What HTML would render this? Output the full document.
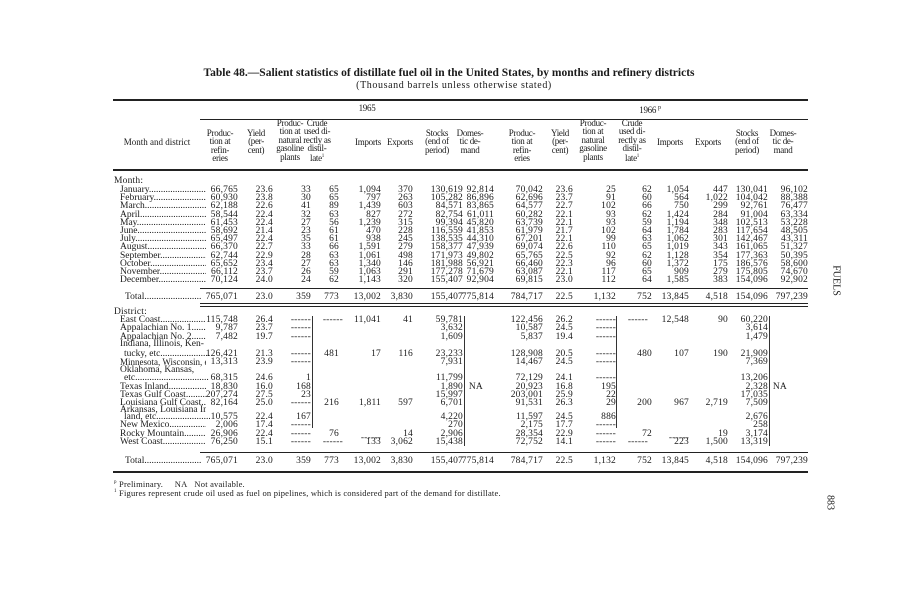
<!DOCTYPE html>
<html><head><meta charset="utf-8"><style>
body{margin:0;background:#fff}
#p{position:relative;width:903px;height:600px;overflow:hidden;background:#fff;font-family:"Liberation Serif",serif;color:#1a1a1a}
.r{position:absolute;left:0;width:903px;height:10px;font-size:9.5px;line-height:10px;letter-spacing:.2px}
.r b{position:absolute;font-weight:normal;white-space:nowrap}
.l{position:absolute;left:116px;width:86px;overflow:hidden;white-space:nowrap;letter-spacing:0}
.c1{right:665px}.c2{right:630px}.c3{right:592px}.c4{right:564px}.c5{right:522px}.c6{right:490px}.c7{right:440px}.c8{right:409px}
.c9{right:360px}.c10{right:330px}.c11{right:287px}.c12{right:251px}.c13{right:214px}.c14{right:175px}.c15{right:135px}.c16{right:95px}
.h{position:absolute;font-size:9px;line-height:8.4px;text-align:center;transform:translateX(-50%);white-space:nowrap;letter-spacing:-.3px}
.hr{position:absolute;height:1px;background:#222}
.v{position:absolute;width:1px;background:#333}
</style></head><body><div id="p">
<div style="position:absolute;left:0;width:903px;top:67px;text-align:center;font-size:11.5px;font-weight:bold;text-indent:-5px">Table 48.—Salient statistics of distillate fuel oil in the United States, by months and refinery districts</div>
<div style="position:absolute;left:0;width:903px;top:80px;text-align:center;font-size:10px;letter-spacing:.6px;text-indent:5px">(Thousand barrels unless otherwise stated)</div>
<div class="hr" style="left:113px;width:695px;top:99px;height:1.5px"></div>
<div class="hr" style="left:200px;width:608px;top:119px"></div>
<div class="hr" style="left:113px;width:695px;top:169px;height:1.5px"></div>
<div class="h" style="left:367px;top:104px">1965</div>
<div class="h" style="left:650px;top:104px">1966 <sup style="font-size:6px">p</sup></div>
<div class="h" style="left:157px;top:138px;letter-spacing:0">Month and district</div>
<div class="h" style="left:220px;top:129px">Produc-<br>tion at<br>refin-<br>eries</div>
<div class="h" style="left:256px;top:129px">Yield<br>(per-<br>cent)</div>
<div class="h" style="left:290px;top:119px">Produc-<br>tion at<br>natural<br>gasoline<br>plants</div>
<div class="h" style="left:317px;top:119px">Crude<br>used di-<br>rectly as<br>distil-<br>late<sup style="font-size:5px">1</sup></div>
<div class="h" style="left:368px;top:138px">Imports</div>
<div class="h" style="left:400px;top:138px">Exports</div>
<div class="h" style="left:437px;top:129px">Stocks<br>(end of<br>period)</div>
<div class="h" style="left:470px;top:129px">Domes-<br>tic de-<br>mand</div>
<div class="h" style="left:522px;top:129px">Produc-<br>tion at<br>refin-<br>eries</div>
<div class="h" style="left:560px;top:129px">Yield<br>(per-<br>cent)</div>
<div class="h" style="left:593px;top:119px">Produc-<br>tion at<br>natural<br>gasoline<br>plants</div>
<div class="h" style="left:632px;top:119px">Crude<br>used di-<br>rectly as<br>distil-<br>late<sup style="font-size:5px">1</sup></div>
<div class="h" style="left:670px;top:138px">Imports</div>
<div class="h" style="left:708px;top:138px">Exports</div>
<div class="h" style="left:747px;top:129px">Stocks<br>(end of<br>period)</div>
<div class="h" style="left:783px;top:129px">Domes-<br>tic de-<br>mand</div>

<div class="r" style="top:176px"><b style="left:114px">Month:</b></div>
<div class="r" style="top:185px"><span class="l" style="left:120px">January........................</span><b class="c1">66,765</b><b class="c2">23.6</b><b class="c3">33</b><b class="c4">65</b><b class="c5">1,094</b><b class="c6">370</b><b class="c7">130,619</b><b class="c8">92,814</b><b class="c9">70,042</b><b class="c10">23.6</b><b class="c11">25</b><b class="c12">62</b><b class="c13">1,054</b><b class="c14">447</b><b class="c15">130,041</b><b class="c16">96,102</b></div>
<div class="r" style="top:193px"><span class="l" style="left:120px">February........................</span><b class="c1">60,930</b><b class="c2">23.8</b><b class="c3">30</b><b class="c4">65</b><b class="c5">797</b><b class="c6">263</b><b class="c7">105,282</b><b class="c8">86,896</b><b class="c9">62,696</b><b class="c10">23.7</b><b class="c11">91</b><b class="c12">60</b><b class="c13">564</b><b class="c14">1,022</b><b class="c15">104,042</b><b class="c16">88,388</b></div>
<div class="r" style="top:201px"><span class="l" style="left:120px">March...........................</span><b class="c1">62,188</b><b class="c2">22.6</b><b class="c3">41</b><b class="c4">89</b><b class="c5">1,439</b><b class="c6">603</b><b class="c7">84,571</b><b class="c8">83,865</b><b class="c9">64,577</b><b class="c10">22.7</b><b class="c11">102</b><b class="c12">66</b><b class="c13">750</b><b class="c14">299</b><b class="c15">92,761</b><b class="c16">76,477</b></div>
<div class="r" style="top:210px"><span class="l" style="left:120px">April.............................</span><b class="c1">58,544</b><b class="c2">22.4</b><b class="c3">32</b><b class="c4">63</b><b class="c5">827</b><b class="c6">272</b><b class="c7">82,754</b><b class="c8">61,011</b><b class="c9">60,282</b><b class="c10">22.1</b><b class="c11">93</b><b class="c12">62</b><b class="c13">1,424</b><b class="c14">284</b><b class="c15">91,004</b><b class="c16">63,334</b></div>
<div class="r" style="top:218px"><span class="l" style="left:120px">May...............................</span><b class="c1">61,453</b><b class="c2">22.4</b><b class="c3">27</b><b class="c4">56</b><b class="c5">1,239</b><b class="c6">315</b><b class="c7">99,394</b><b class="c8">45,820</b><b class="c9">63,739</b><b class="c10">22.1</b><b class="c11">93</b><b class="c12">59</b><b class="c13">1,194</b><b class="c14">348</b><b class="c15">102,513</b><b class="c16">53,228</b></div>
<div class="r" style="top:226px"><span class="l" style="left:120px">June..............................</span><b class="c1">58,692</b><b class="c2">21.4</b><b class="c3">23</b><b class="c4">61</b><b class="c5">470</b><b class="c6">228</b><b class="c7">116,559</b><b class="c8">41,853</b><b class="c9">61,979</b><b class="c10">21.7</b><b class="c11">102</b><b class="c12">64</b><b class="c13">1,784</b><b class="c14">283</b><b class="c15">117,654</b><b class="c16">48,505</b></div>
<div class="r" style="top:234px"><span class="l" style="left:120px">July...............................</span><b class="c1">65,497</b><b class="c2">22.4</b><b class="c3">35</b><b class="c4">61</b><b class="c5">938</b><b class="c6">245</b><b class="c7">138,535</b><b class="c8">44,310</b><b class="c9">67,201</b><b class="c10">22.1</b><b class="c11">99</b><b class="c12">63</b><b class="c13">1,062</b><b class="c14">301</b><b class="c15">142,467</b><b class="c16">43,311</b></div>
<div class="r" style="top:242px"><span class="l" style="left:120px">August...........................</span><b class="c1">66,370</b><b class="c2">22.7</b><b class="c3">33</b><b class="c4">66</b><b class="c5">1,591</b><b class="c6">279</b><b class="c7">158,377</b><b class="c8">47,939</b><b class="c9">69,074</b><b class="c10">22.6</b><b class="c11">110</b><b class="c12">65</b><b class="c13">1,019</b><b class="c14">343</b><b class="c15">161,065</b><b class="c16">51,327</b></div>
<div class="r" style="top:251px"><span class="l" style="left:120px">September.......................</span><b class="c1">62,744</b><b class="c2">22.9</b><b class="c3">28</b><b class="c4">63</b><b class="c5">1,061</b><b class="c6">498</b><b class="c7">171,973</b><b class="c8">49,802</b><b class="c9">65,765</b><b class="c10">22.5</b><b class="c11">92</b><b class="c12">62</b><b class="c13">1,128</b><b class="c14">354</b><b class="c15">177,363</b><b class="c16">50,395</b></div>
<div class="r" style="top:259px"><span class="l" style="left:120px">October..........................</span><b class="c1">65,652</b><b class="c2">23.4</b><b class="c3">27</b><b class="c4">63</b><b class="c5">1,340</b><b class="c6">146</b><b class="c7">181,988</b><b class="c8">56,921</b><b class="c9">66,460</b><b class="c10">22.3</b><b class="c11">96</b><b class="c12">60</b><b class="c13">1,372</b><b class="c14">175</b><b class="c15">186,576</b><b class="c16">58,600</b></div>
<div class="r" style="top:267px"><span class="l" style="left:120px">November.........................</span><b class="c1">66,112</b><b class="c2">23.7</b><b class="c3">26</b><b class="c4">59</b><b class="c5">1,063</b><b class="c6">291</b><b class="c7">177,278</b><b class="c8">71,679</b><b class="c9">63,087</b><b class="c10">22.1</b><b class="c11">117</b><b class="c12">65</b><b class="c13">909</b><b class="c14">279</b><b class="c15">175,805</b><b class="c16">74,670</b></div>
<div class="r" style="top:275px"><span class="l" style="left:120px">December.........................</span><b class="c1">70,124</b><b class="c2">24.0</b><b class="c3">24</b><b class="c4">62</b><b class="c5">1,143</b><b class="c6">320</b><b class="c7">155,407</b><b class="c8">92,904</b><b class="c9">69,815</b><b class="c10">23.0</b><b class="c11">112</b><b class="c12">64</b><b class="c13">1,585</b><b class="c14">383</b><b class="c15">154,096</b><b class="c16">92,902</b></div>
<div class="hr" style="left:200px;width:608px;top:288px"></div>
<div class="r" style="top:292px"><span class="l" style="left:125px;width:77px">Total.............................</span><b class="c1">765,071</b><b class="c2">23.0</b><b class="c3">359</b><b class="c4">773</b><b class="c5">13,002</b><b class="c6">3,830</b><b class="c7">155,407</b><b class="c8">775,814</b><b class="c9">784,717</b><b class="c10">22.5</b><b class="c11">1,132</b><b class="c12">752</b><b class="c13">13,845</b><b class="c14">4,518</b><b class="c15">154,096</b><b class="c16">797,239</b></div>
<div class="hr" style="left:200px;width:608px;top:303px"></div>
<div class="hr" style="left:200px;width:608px;top:306px"></div>

<div class="r" style="top:307px"><b style="left:114px">District:</b></div>
<div class="r" style="top:315px"><span class="l" style="left:120px">East Coast........................</span><b class="c1">115,748</b><b class="c2">26.4</b><b class="c3">------</b><b style="right:560px">------</b><b class="c5">11,041</b><b class="c6">41</b><b class="c7">59,781</b><b class="c9">122,456</b><b class="c10">26.2</b><b class="c11">------</b><b style="right:255px">------</b><b class="c13">12,548</b><b class="c14">90</b><b class="c15">60,220</b></div>
<div class="r" style="top:323px"><span class="l" style="left:120px">Appalachian No. 1...............</span><b class="c1">9,787</b><b class="c2">23.7</b><b class="c3">------</b><b class="c7">3,632</b><b class="c9">10,587</b><b class="c10">24.5</b><b class="c11">------</b><b class="c15">3,614</b></div>
<div class="r" style="top:332px"><span class="l" style="left:120px">Appalachian No. 2...............</span><b class="c1">7,482</b><b class="c2">19.7</b><b class="c3">------</b><b class="c7">1,609</b><b class="c9">5,837</b><b class="c10">19.4</b><b class="c11">------</b><b class="c15">1,479</b></div>
<div class="r" style="top:339px"><span class="l" style="left:120px">Indiana, Illinois, Ken-</span></div>
<div class="r" style="top:349px"><span class="l" style="left:124px">tucky, etc........................</span><b class="c1">126,421</b><b class="c2">21.3</b><b class="c3">------</b><b class="c4">481</b><b class="c5">17</b><b class="c6">116</b><b class="c7">23,233</b><b class="c9">128,908</b><b class="c10">20.5</b><b class="c11">------</b><b class="c12">480</b><b class="c13">107</b><b class="c14">190</b><b class="c15">21,909</b></div>
<div class="r" style="top:357px"><span class="l" style="left:120px;font-size:9px">Minnesota, Wisconsin, etc.</span><b class="c1">13,313</b><b class="c2">23.9</b><b class="c3">------</b><b class="c7">7,931</b><b class="c9">14,467</b><b class="c10">24.5</b><b class="c11">------</b><b class="c15">7,369</b></div>
<div class="r" style="top:365px"><span class="l" style="left:120px">Oklahoma, Kansas,</span></div>
<div class="r" style="top:373px"><span class="l" style="left:124px">etc...............................</span><b class="c1">68,315</b><b class="c2">24.6</b><b class="c3">1</b><b class="c7">11,799</b><b class="c9">72,129</b><b class="c10">24.1</b><b class="c11">------</b><b class="c15">13,206</b></div>
<div class="r" style="top:382px"><span class="l" style="left:120px">Texas Inland......................</span><b class="c1">18,830</b><b class="c2">16.0</b><b class="c3">168</b><b class="c7">1,890</b><b style="right:420px">NA</b><b class="c9">20,923</b><b class="c10">16.8</b><b class="c11">195</b><b class="c15">2,328</b><b style="right:116px">NA</b></div>
<div class="r" style="top:390px"><span class="l" style="left:120px">Texas Gulf Coast.................</span><b class="c1">207,274</b><b class="c2">27.5</b><b class="c3">23</b><b class="c7">15,997</b><b class="c9">203,001</b><b class="c10">25.9</b><b class="c11">22</b><b class="c15">17,035</b></div>
<div class="r" style="top:398px"><span class="l" style="left:120px">Louisiana Gulf Coast.........</span><b class="c1">82,164</b><b class="c2">25.0</b><b class="c3">------</b><b class="c4">216</b><b class="c5">1,811</b><b class="c6">597</b><b class="c7">6,701</b><b class="c9">91,531</b><b class="c10">26.3</b><b class="c11">29</b><b class="c12">200</b><b class="c13">967</b><b class="c14">2,719</b><b class="c15">7,509</b></div>
<div class="r" style="top:405px"><span class="l" style="left:120px">Arkansas, Louisiana In-</span></div>
<div class="r" style="top:412px"><span class="l" style="left:124px">land, etc..........................</span><b class="c1">10,575</b><b class="c2">22.4</b><b class="c3">167</b><b class="c7">4,220</b><b class="c9">11,597</b><b class="c10">24.5</b><b class="c11">886</b><b class="c15">2,676</b></div>
<div class="r" style="top:420px"><span class="l" style="left:120px">New Mexico.......................</span><b class="c1">2,006</b><b class="c2">17.4</b><b class="c3">------</b><b class="c7">270</b><b class="c9">2,175</b><b class="c10">17.7</b><b class="c11">------</b><b class="c15">258</b></div>
<div class="r" style="top:429px"><span class="l" style="left:120px">Rocky Mountain..................</span><b class="c1">26,906</b><b class="c2">22.4</b><b class="c3">------</b><b class="c4">76</b><b class="c6">14</b><b class="c7">2,906</b><b class="c9">28,354</b><b class="c10">22.9</b><b class="c11">------</b><b class="c12">72</b><b class="c14">19</b><b class="c15">3,174</b></div>
<div class="r" style="top:433px"><b class="c5">------</b><b class="c13">------</b></div>
<div class="r" style="top:437px"><span class="l" style="left:120px">West Coast........................</span><b class="c1">76,250</b><b class="c2">15.1</b><b class="c3">------</b><b style="right:560px">------</b><b class="c5">133</b><b class="c6">3,062</b><b class="c7">15,438</b><b class="c9">72,752</b><b class="c10">14.1</b><b class="c11">------</b><b style="right:255px">------</b><b class="c13">223</b><b class="c14">1,500</b><b class="c15">13,319</b></div>
<div class="v" style="left:312px;top:316px;height:112px"></div>
<div class="v" style="left:616px;top:316px;height:112px"></div>
<div class="v" style="left:464px;top:316px;height:130px"></div>
<div class="v" style="left:769px;top:316px;height:130px"></div>
<div class="hr" style="left:200px;width:608px;top:452px"></div>
<div class="r" style="top:456px"><span class="l" style="left:125px;width:77px">Total.............................</span><b class="c1">765,071</b><b class="c2">23.0</b><b class="c3">359</b><b class="c4">773</b><b class="c5">13,002</b><b class="c6">3,830</b><b class="c7">155,407</b><b class="c8">775,814</b><b class="c9">784,717</b><b class="c10">22.5</b><b class="c11">1,132</b><b class="c12">752</b><b class="c13">13,845</b><b class="c14">4,518</b><b class="c15">154,096</b><b class="c16">797,239</b></div>
<div class="hr" style="left:113px;width:695px;top:471px;height:1.5px"></div>
<div style="position:absolute;left:114px;top:479px;font-size:8.5px;white-space:nowrap;letter-spacing:.2px"><sup style="font-size:5px">p</sup> Preliminary.&nbsp;&nbsp;&nbsp;&nbsp; NA&nbsp;&nbsp; Not available.</div>
<div style="position:absolute;left:114px;top:488px;font-size:8.5px;white-space:nowrap;letter-spacing:.2px"><sup style="font-size:5px">1</sup> Figures represent crude oil used as fuel on pipelines, which is considered part of the demand for distillate.</div>
<div style="position:absolute;left:811px;top:275px;width:50px;text-align:center;font-size:10px;transform:rotate(90deg)">FUELS</div>
<div style="position:absolute;left:815px;top:497px;width:30px;text-align:center;font-size:10px;transform:rotate(90deg)">883</div>
</div></body></html>
